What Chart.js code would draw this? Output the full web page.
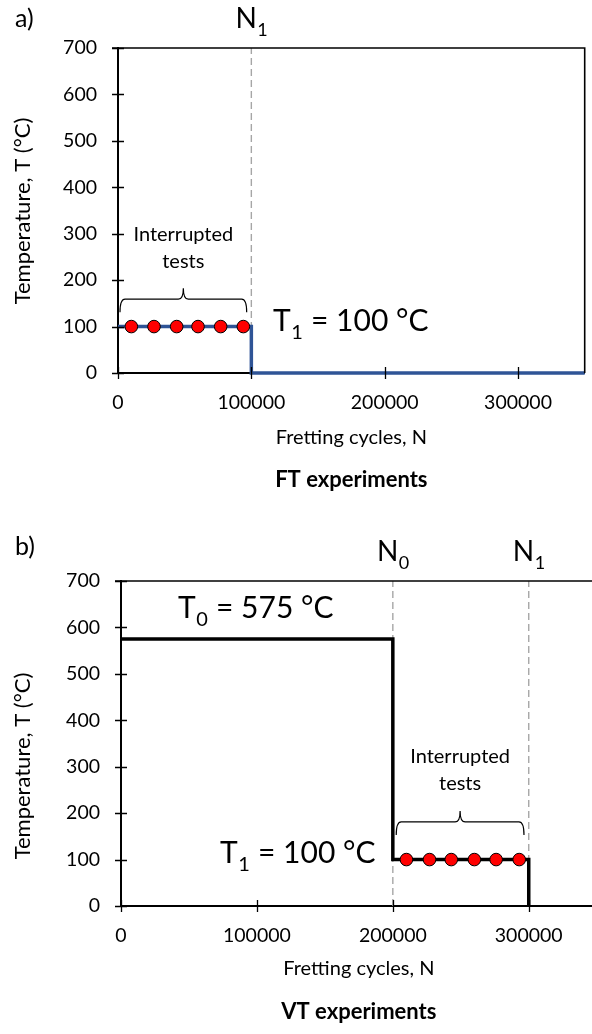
<!DOCTYPE html>
<html><head><meta charset="utf-8">
<script src="https://cdn.jsdelivr.net/npm/chart.js@4/dist/chart.umd.min.js"></script>
<style>
html,body{margin:0;padding:0;background:#fff;overflow:hidden;width:592px;height:1034px;}
#c1{position:absolute;left:0;top:0;}
#c2{position:absolute;left:0;top:500px;}
</style></head><body>
<canvas id="c1" width="592" height="500"></canvas>
<canvas id="c2" width="604" height="534"></canvas>
<script>
const FONT = 'Lato, "Open Sans", sans-serif';

// ---- shared axes ----
const xTicks = [0, 100000, 200000, 300000];
const yTicks = [0, 100, 200, 300, 400, 500, 600, 700];
const xMin = 0, xMax = 350000, yMin = 0, yMax = 700;
const xTitle = 'Fretting cycles, N';
const yTitle = 'Temperature, T (°C)';

// ---- a) FT experiments ----
const ftPathX = [0, 100000, 100000, 350000];
const ftPathY = [100, 100, 0, 0];
const ftTestX = [10000, 27000, 44000, 60000, 77000, 94000];
const ftTestY = [100, 100, 100, 100, 100, 100];
const ftMarkX = [100000];
const ftMarkLabels = ['1'];
const ftBraceX = [1500, 96500];
const ftBraceY = 131;

// ---- b) VT experiments ----
const vtPathX = [0, 200000, 200000, 300000, 300000];
const vtPathY = [575, 575, 100, 100, 0];
const vtTestX = [210000, 227000, 243000, 260000, 276000, 293000];
const vtTestY = [100, 100, 100, 100, 100, 100];
const vtMarkX = [200000, 300000];
const vtMarkLabels = ['0', '1'];
const vtBraceX = [202500, 296500];
const vtBraceY = 153;

function pts(xs, ys) { return xs.map((x, i) => ({x: x, y: ys[i]})); }

function drawSub(ctx, main, sub, rest, x, y, size, align) {
  ctx.save();
  ctx.fillStyle = '#000';
  ctx.textBaseline = 'alphabetic';
  ctx.textAlign = 'left';
  const big = size + 'px ' + FONT, small = Math.round(size * 0.66) + 'px ' + FONT;
  ctx.font = big; const w1 = ctx.measureText(main).width;
  const w3 = rest ? ctx.measureText(rest).width : 0;
  ctx.font = small; const w2 = ctx.measureText(sub).width;
  const total = w1 + w2 + w3;
  let x0 = align === 'center' ? x - total / 2 : x;
  ctx.font = big; ctx.fillText(main, x0, y);
  ctx.font = small; ctx.fillText(sub, x0 + w1 + 0.5, y + size * 0.27);
  if (rest) { ctx.font = big; ctx.fillText(rest, x0 + w1 + w2 + 1, y); }
  ctx.restore();
}

function makeDecor(opt) {
  return {
    id: 'decor',
    afterDraw(chart) {
      const ctx = chart.ctx, xs = chart.scales.x, ys = chart.scales.y, ca = chart.chartArea;
      ctx.save();
      ctx.strokeStyle = '#000';
      ctx.lineWidth = 1.6;
      ctx.beginPath();
      ctx.moveTo(ca.left - 6, ca.top); ctx.lineTo(ca.right, ca.top);
      if (opt.rightBorder) { ctx.lineTo(ca.right, ca.bottom); }
      ctx.stroke();
      // crossing tick marks
      ctx.lineWidth = 1.3;
      ctx.beginPath();
      xTicks.forEach(v => { const p = Math.round(xs.getPixelForValue(v)) + 0.5; ctx.moveTo(p, ca.bottom - 6); ctx.lineTo(p, ca.bottom + 6); });
      yTicks.forEach(v => { const p = Math.round(ys.getPixelForValue(v)) + 0.5; ctx.moveTo(ca.left - 6, p); ctx.lineTo(ca.left + 6, p); });
      ctx.stroke();
      // brace
      const x1 = xs.getPixelForValue(opt.braceX[0]), x2 = xs.getPixelForValue(opt.braceX[1]);
      const yb = ys.getPixelForValue(opt.braceY), yl = yb - 13, yt = yb - 24, xm = (x1 + x2) / 2, r = 5;
      ctx.lineWidth = 1.2;
      ctx.beginPath();
      ctx.moveTo(x1, yb);
      ctx.quadraticCurveTo(x1, yl, x1 + r, yl);
      ctx.lineTo(xm - r, yl);
      ctx.quadraticCurveTo(xm, yl, xm, yt);
      ctx.quadraticCurveTo(xm, yl, xm + r, yl);
      ctx.lineTo(x2 - r, yl);
      ctx.quadraticCurveTo(x2, yl, x2, yb);
      ctx.stroke();
      ctx.fillStyle = '#000';
      ctx.font = '20px ' + FONT;
      ctx.textAlign = 'center';
      ctx.textBaseline = 'middle';
      ctx.fillText('Interrupted', xm, yb - 78);
      ctx.fillText('tests', xm, yb - 51);
      // experiment title, centred under the plot area
      ctx.font = 'bold 22px ' + FONT;
      ctx.fillText(opt.title, (ca.left + ca.right) / 2, opt.titleY);
      // y axis title
      ctx.save();
      ctx.translate(23, opt.yTitleY);
      ctx.rotate(-Math.PI / 2);
      ctx.font = '22px ' + FONT;
      ctx.fillText(yTitle, 0, 0);
      ctx.restore();
      // panel letter
      ctx.font = '25px ' + FONT;
      ctx.textAlign = 'left';
      ctx.textBaseline = 'alphabetic';
      ctx.fillText(opt.letter, 15, opt.letterY);
      ctx.restore();
      opt.markX.forEach((v, i) => drawSub(ctx, 'N', opt.markLabels[i], '', xs.getPixelForValue(v), ca.top - 20, 28, 'center'));
      opt.tLabels.forEach(t => drawSub(ctx, 'T', t.sub, ' = ' + t.val + ' °C', t.x, t.y, 30, 'left'));
    }
  };
}

function makeChart(id, o) {
  return new Chart(document.getElementById(id), {
    type: 'scatter',
    data: {
      datasets: [
        { data: pts(o.testX, o.testY), showLine: false, pointRadius: 6.3, pointBackgroundColor: '#FF0000', pointBorderColor: '#000', pointBorderWidth: 1, order: 0, clip: false },
        { data: pts(o.pathX, o.pathY), showLine: true, borderColor: o.lineColor, borderWidth: 3.5, pointRadius: 0, tension: 0, order: 1, borderCapStyle: 'butt', borderJoinStyle: 'miter', clip: false },
        ...o.markX.map(v => ({ data: [{x: v, y: yMin}, {x: v, y: yMax}], showLine: true, borderColor: '#A6A6A6', borderWidth: 1.4, borderDash: [7, 4], pointRadius: 0, order: 2 }))
      ]
    },
    options: {
      responsive: false, animation: false, devicePixelRatio: 1,
      layout: { padding: o.padding },
      plugins: { legend: { display: false }, tooltip: { enabled: false } },
      scales: {
        x: {
          type: 'linear', min: xMin, max: xMax,
          afterFit: s => { s.height = o.xHeight; },
          afterBuildTicks: s => { s.ticks = xTicks.map(v => ({ value: v })); },
          grid: { display: false, drawTicks: false },
          border: { display: true, color: '#000', width: 2 },
          ticks: { color: '#000', font: { family: FONT, size: 19.5 }, padding: 18.3, maxRotation: 0, autoSkip: false, callback: v => String(v) },
          title: { display: true, text: xTitle, color: '#000', font: { family: FONT, size: 20 }, padding: { top: 0, bottom: o.xTitlePad } }
        },
        y: {
          type: 'linear', min: yMin, max: yMax,
          afterFit: s => { s.width = o.yWidth; },
          afterBuildTicks: s => { s.ticks = yTicks.map(v => ({ value: v })); },
          grid: { display: false, drawTicks: false },
          border: { display: true, color: '#000', width: 2 },
          ticks: { color: '#000', font: { family: FONT, size: 19.5 }, padding: 21, callback: v => String(v) },
          title: { display: false, text: yTitle }
        }
      }
    },
    plugins: [makeDecor(o)]
  });
}

makeChart('c1', {
  title: 'FT experiments', titleY: 480, yTitleY: 211, xHeight: 127, xTitlePad: 50, yWidth: 118,
  padding: { top: 48, right: 3, left: 0, bottom: 0 },
  pathX: ftPathX, pathY: ftPathY, testX: ftTestX, testY: ftTestY, markX: ftMarkX, markLabels: ftMarkLabels,
  braceX: ftBraceX, braceY: ftBraceY, lineColor: '#2F5496', rightBorder: true,
  letter: 'a)', letterY: 27,
  tLabels: [{ sub: '1', val: '100', x: 273, y: 331 }]
});

makeChart('c2', {
  title: 'VT experiments', titleY: 512, yTitleY: 266, xHeight: 128, xTitlePad: 53, yWidth: 121,
  padding: { top: 81, right: 4, left: 0, bottom: 0 },
  pathX: vtPathX, pathY: vtPathY, testX: vtTestX, testY: vtTestY, markX: vtMarkX, markLabels: vtMarkLabels,
  braceX: vtBraceX, braceY: vtBraceY, lineColor: '#000', rightBorder: false,
  letter: 'b)', letterY: 55,
  tLabels: [{ sub: '0', val: '575', x: 178, y: 118 }, { sub: '1', val: '100', x: 220, y: 363 }]
});
</script>
</body></html>
